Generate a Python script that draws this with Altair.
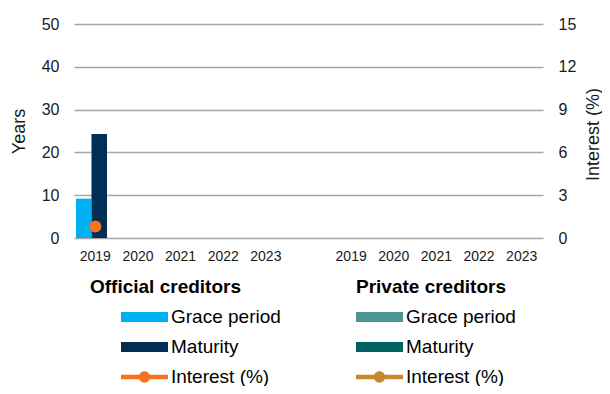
import altair as alt
import pandas as pd

# ---------------- data ----------------
years = ["2019", "2020", "2021", "2022", "2023"]
official_grace = [9.2, None, None, None, None]
official_maturity = [24.3, None, None, None, None]
official_interest = [0.8, None, None, None, None]
private_grace = [None, None, None, None, None]
private_maturity = [None, None, None, None, None]
private_interest = [None, None, None, None, None]

series_names = ["Grace period", "Maturity", "Interest (%)"]
official_colors = ["#00B0F0", "#002F56", "#F47321"]
private_colors = ["#4E9594", "#00625F", "#C8882A"]

years_ticks = [0, 10, 20, 30, 40, 50]
interest_ticks = [0, 3, 6, 9, 12, 15]

FONT = "Liberation Sans"
TXT = "#1a1a1a"
GAP = "gap"
cats = ["O" + y for y in years] + [GAP] + ["P" + y for y in years]

rows = []
for code, grp, g, m, i in [
    ("O", "Official creditors", official_grace, official_maturity, official_interest),
    ("P", "Private creditors", private_grace, private_maturity, private_interest),
]:
    for k, y in enumerate(years):
        for s, vals in zip(series_names, [g, m, i]):
            rows.append(dict(code=code, group=grp, cat=code + y, series=s,
                             key=code + "|" + s, value=vals[k]))
df = pd.DataFrame(rows)

BAR = "M-1,-0.213H1V0.213H-1Z"
LINE_DOT = ("M-1,-0.1H1V0.1H-1Z "
            "M-0.24,0A0.24,0.24 0 1,1 0.24,0A0.24,0.24 0 1,1 -0.24,0Z")

x_enc = alt.X(
    "cat:N",
    scale=alt.Scale(domain=cats, paddingInner=0, paddingOuter=0),
    axis=alt.Axis(title=None, labelAngle=0, ticks=False, domain=False, grid=False,
                  labelExpr="datum.label == 'gap' ? '' : substring(datum.label, 1)",
                  labelPadding=11, labelFontSize=14, labelFont=FONT, labelColor=TXT),
)

x_off = alt.XOffset("series:N", scale=alt.Scale(domain=["Grace period", "Maturity"],
                                                paddingInner=0, paddingOuter=0.3755, align=0.172))

left_axis = alt.Axis(orient="left", values=years_ticks, title="Years", grid=True,
                     gridColor="#A6A6A6", gridWidth=1.5, ticks=False, domain=False,
                     labelPadding=15, labelFontSize=16, labelFont=FONT, labelColor=TXT,
                     titleFontSize=18, titleFont=FONT, titleFontWeight="normal", titleColor=TXT,
                     titleAngle=270, titleX=-50, titleY=107, titleAlign="center",
                     titleBaseline="alphabetic")


def make_legend(title, lx, sym_off, lab_off):
    return alt.Legend(title=title, orient="none", legendX=lx, legendY=254, direction="vertical",
                      titleFont=FONT, titleFontSize=19, titleFontWeight="bold", titleColor="#000",
                      titlePadding=10, labelFont=FONT, labelFontSize=19, labelColor="#000",
                      labelOffset=lab_off, symbolOffset=sym_off, symbolSize=2209,
                      symbolStrokeWidth=0, clipHeight=20, rowPadding=10, padding=0,
                      labelExpr="split(datum.label, '|')[1]", labelLimit=300)


def group(code, title, colors, lx, sym_off, lab_off, axis):
    domain = [code + "|" + s for s in series_names]
    leg = make_legend(title, lx, sym_off, lab_off)
    color = alt.Color("key:N", scale=alt.Scale(domain=domain, range=colors), legend=leg)
    base = alt.Chart(df).transform_filter(f"datum.code == '{code}'")
    bars = base.transform_filter("datum.series != 'Interest (%)'").mark_bar().encode(
        x=x_enc, xOffset=x_off,
        y=alt.Y("value:Q", scale=alt.Scale(domain=[0, 50]), axis=axis),
        color=color,
    )
    dummy = base.transform_filter("false").mark_point(filled=True, opacity=1).encode(
        color=color,
        shape=alt.Shape("key:N", scale=alt.Scale(domain=domain, range=[BAR, BAR, LINE_DOT]),
                        legend=leg),
    )
    return alt.layer(bars, dummy)


official = group("O", "Official creditors", official_colors, 16, 31, 3, left_axis)
private = group("P", "Private creditors", private_colors, 282, 0, 3, None)

interest = alt.Chart(df).transform_filter("datum.series == 'Interest (%)'").mark_line(
    strokeWidth=3, point=alt.OverlayMarkDef(filled=True, size=145, opacity=1)
).encode(
    x=x_enc,
    y=alt.Y("value:Q", scale=alt.Scale(domain=[0, 15]),
            axis=alt.Axis(orient="right", values=interest_ticks, title="Interest (%)", grid=False,
                          ticks=False, domain=False, labelPadding=15, labelFontSize=16,
                          labelFont=FONT, labelColor=TXT, titleFontSize=18, titleFont=FONT,
                          titleFontWeight="normal", titleColor=TXT, titleAngle=270, titleX=55,
                          titleY=110, titleAlign="center", titleBaseline="alphabetic")),
    color=alt.Color("key:N", scale=alt.Scale(domain=["O|Interest (%)", "P|Interest (%)"],
                                             range=[official_colors[2], private_colors[2]]),
                    legend=None),
    detail="code:N",
)

chart = alt.layer(official, private, interest).resolve_scale(
    y="independent", color="independent", shape="independent"
).properties(
    width=469, height=214,
    autosize=alt.AutoSizeParams(type="none"),
    padding={"left": 66, "top": 16, "right": 59, "bottom": 148},
    background="white",
).configure_view(stroke=None)

chart.save("out.html", embed_options={"renderer": "svg", "actions": False})
